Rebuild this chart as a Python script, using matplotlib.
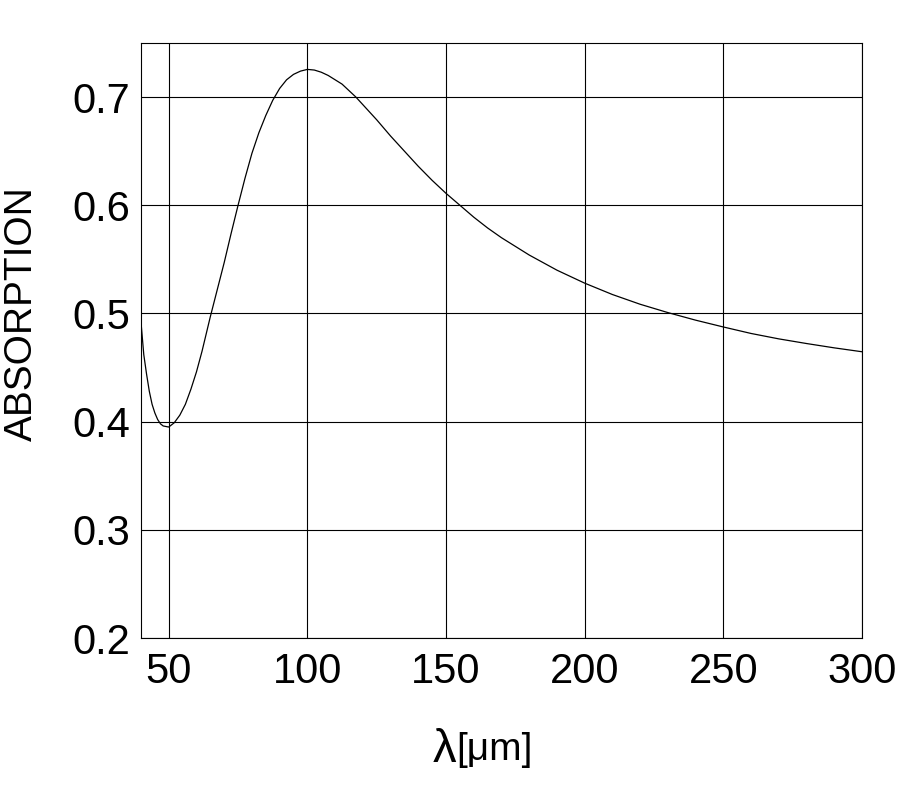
#!/usr/bin/env python3
"""Absorption vs wavelength curve."""

import matplotlib
matplotlib.use("Agg")
import matplotlib.pyplot as plt

# Values
wavelength = [40, 41, 42, 43, 44, 45, 46, 47, 48, 50, 52, 54, 56, 58, 60, 62, 65,
              67.5, 70, 72.5, 75, 77.5, 80, 82.5, 85, 87.5, 90, 92.5, 95, 97.5,
              100, 102.5, 105, 107.5, 110, 112.5, 115, 117.5, 120, 125, 130, 135,
              140, 145, 150, 155, 160, 165, 170, 175, 180, 185, 190, 195, 200,
              210, 220, 230, 240, 250, 260, 270, 280, 290, 300]
absorption = [0.492, 0.462, 0.444, 0.428, 0.416, 0.408, 0.402, 0.398, 0.396,
              0.395, 0.399, 0.406, 0.416, 0.430, 0.446, 0.465, 0.497,
              0.522, 0.547, 0.574, 0.600, 0.625, 0.648, 0.667, 0.683, 0.697,
              0.708, 0.716, 0.721, 0.724, 0.7256, 0.725, 0.723, 0.720, 0.716,
              0.712, 0.706, 0.700, 0.693, 0.679, 0.664, 0.650, 0.636, 0.623,
              0.611, 0.600, 0.589, 0.579, 0.570, 0.562, 0.554, 0.547, 0.540,
              0.534, 0.528, 0.5175, 0.5085, 0.5008, 0.4938, 0.4875, 0.4815,
              0.4765, 0.4722, 0.4682, 0.4646]

xticks = [50, 100, 150, 200, 250, 300]
yticks = [0.2, 0.3, 0.4, 0.5, 0.6, 0.7]

plt.rcParams['font.family'] = ['Liberation Sans', 'DejaVu Sans']

fig = plt.figure(figsize=(9, 8), dpi=100)
ax = fig.add_axes([141 / 900, 162 / 800, 721 / 900, 595 / 800])

ax.plot(wavelength, absorption, color='black', linewidth=0.9)

ax.set_xlim(40, 300)
ax.set_ylim(0.2, 0.75)
ax.set_xticks(xticks)
ax.set_yticks(yticks)
ax.set_yticklabels([f"{v:.1f}" for v in yticks])
ax.grid(True, color='black', linewidth=0.8)
ax.set_axisbelow(True)
ax.tick_params(axis='both', length=0, labelsize=30)
ax.tick_params(axis='x', pad=10)
ax.tick_params(axis='y', pad=8)
for s in ax.spines.values():
    s.set_linewidth(0.8)

fig.text(22 / 900, 1 - 314 / 800, 'ABSORPTION', rotation=90,
         ha='center', va='center', fontsize=28)
fig.text(456 / 900, 1 - 750 / 800, 'λ', ha='right', va='center', fontsize=34)
fig.text(456 / 900, 1 - 750 / 800, '[μm]', ha='left', va='center', fontsize=28)

fig.savefig('out.png', dpi=100)
plt.close(fig)
